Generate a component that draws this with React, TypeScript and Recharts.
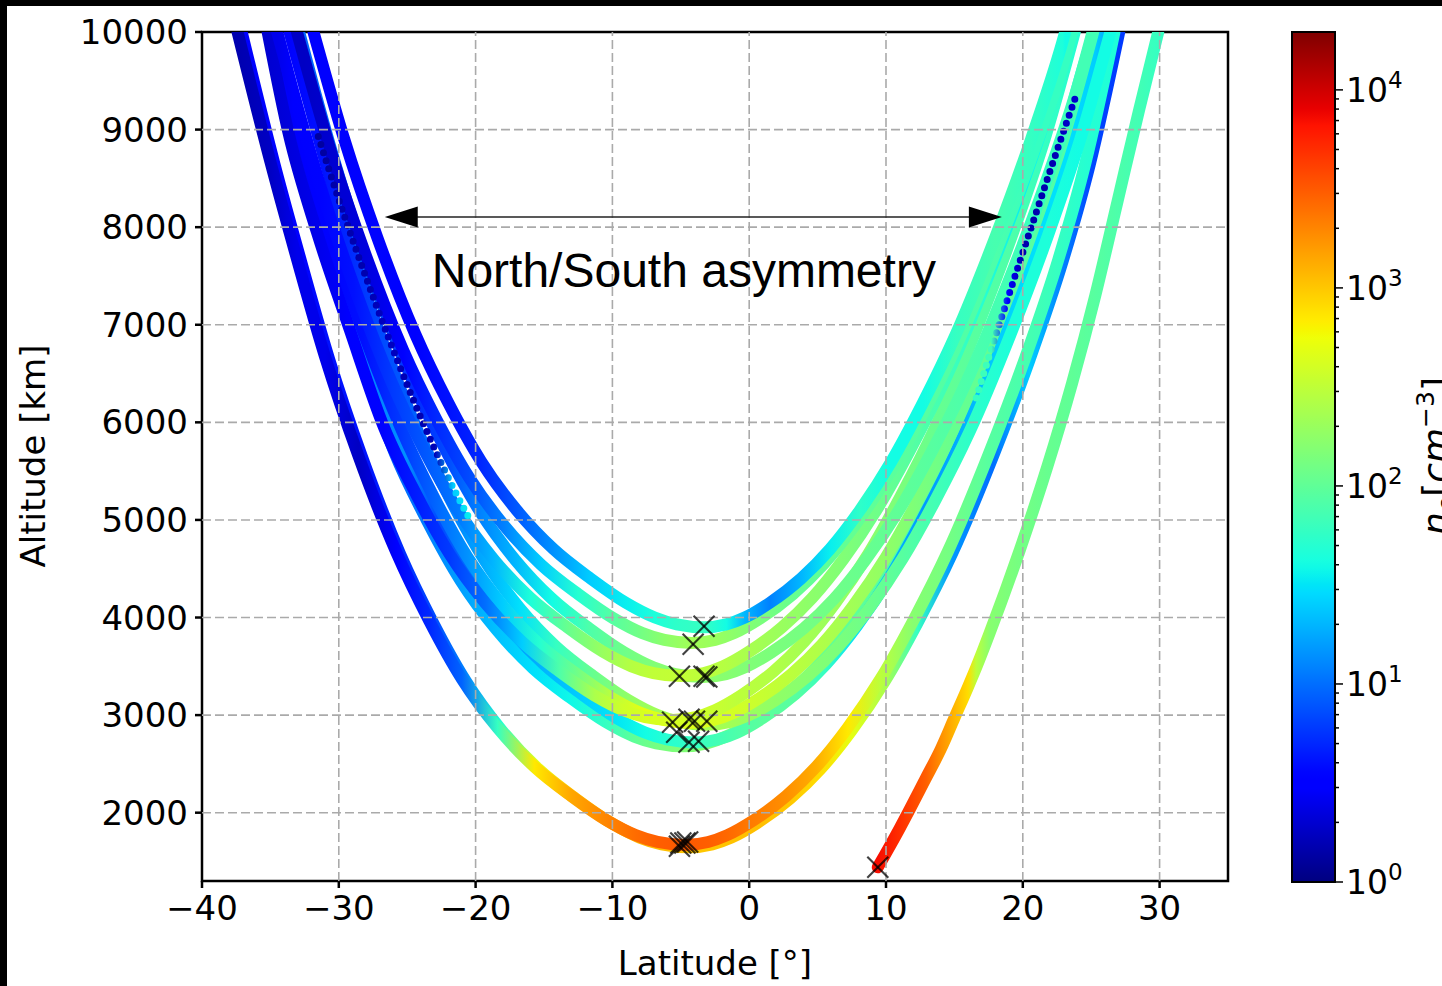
import React from 'react';
import {
  ComposedChart,
  Line,
  Scatter,
  XAxis,
  YAxis,
  ReferenceLine,
  ReferenceArea,
  ReferenceDot,
} from 'recharts';

type Pt = [number, number, number]; // [latitude deg, altitude km, n_e cm^-3]

// ---------- axis ticks ----------
const LAT_TICKS = [-40, -30, -20, -10, 0, 10, 20, 30];
const ALT_TICKS = [2000, 3000, 4000, 5000, 6000, 7000, 8000, 9000, 10000];
const GRID_LATS = [-30, -20, -10, 0, 10, 20, 30];
const GRID_ALTS = [2000, 3000, 4000, 5000, 6000, 7000, 8000, 9000];
const CB_TICKS = [
  1, 2, 3, 4, 5, 6, 7, 8, 9,
  10, 20, 30, 40, 50, 60, 70, 80, 90,
  100, 200, 300, 400, 500, 600, 700, 800, 900,
  1000, 2000, 3000, 4000, 5000, 6000, 7000, 8000, 9000,
  10000,
];
const CB_MAJOR = [1, 10, 100, 1000, 10000];
const NE_MIN = 1;
const NE_MAX = 19600;

// ---------- passes (lat, alt, density) ----------
const P1: Pt[] = [
  [-31.85, 10000, 3.2], [-31.65, 9900, 3.2], [-29.6, 8900, 3.4], [-27.2, 7900, 3.5], [-24.4, 6900, 3.3],
  [-22.0, 6200, 4], [-19.6, 5600, 5], [-17.0, 5100, 8], [-14.3, 4700, 14], [-11.6, 4400, 25],
  [-9.0, 4150, 35], [-6.9, 4000, 45], [-5.3, 3930, 55], [-3.3, 3900, 60], [-1.67, 3930, 40],
  [-0.32, 4000, 20], [1.5, 4150, 12], [3.8, 4400, 20], [5.9, 4700, 35], [8.1, 5100, 55],
  [10.4, 5600, 40], [12.7, 6200, 40], [15.1, 6900, 60], [18.0, 7900, 75], [20.6, 8900, 60],
  [22.9, 9900, 45], [23.1, 10000, 40],
];
const P2: Pt[] = [
  [-33.06, 10000, 1.8], [-32.55, 9740, 1.8], [-30.5, 8740, 2], [-28.1, 7740, 2.2], [-25.3, 6740, 3],
  [-22.9, 6040, 5], [-20.5, 5440, 7], [-17.9, 4940, 12], [-15.2, 4540, 25], [-12.5, 4240, 50],
  [-9.9, 3990, 90], [-7.8, 3840, 130], [-6.2, 3770, 170], [-4.2, 3740, 220], [-2.5, 3770, 200],
  [-1.1, 3840, 170], [0.8, 3990, 140], [3.2, 4240, 110], [5.4, 4540, 100], [7.7, 4940, 105],
  [10.1, 5440, 95], [12.5, 6040, 90], [15.0, 6740, 85], [18.0, 7740, 80], [20.7, 8740, 60],
  [23.1, 9740, 60], [23.6, 10000, 60],
];
const P3: Pt[] = [
  [-34.5, 10000, 2.5], [-33.35, 9400, 3], [-31.3, 8400, 3.5], [-28.9, 7400, 4], [-26.1, 6400, 6],
  [-23.7, 5700, 8], [-21.3, 5100, 11], [-18.7, 4600, 20], [-16.0, 4200, 45], [-13.3, 3900, 110],
  [-10.7, 3650, 200], [-8.6, 3500, 280], [-7.0, 3430, 320], [-5.0, 3400, 330], [-3.3, 3430, 300],
  [-1.9, 3500, 280], [0.0, 3650, 240], [2.4, 3900, 200], [4.6, 4200, 170], [6.9, 4600, 150],
  [9.3, 5100, 120], [11.7, 5700, 90], [14.2, 6400, 70], [17.2, 7400, 50], [19.9, 8400, 35],
  [22.3, 9400, 40], [23.5, 10000, 45],
];
const P4: Pt[] = [
  [-32.9, 10000, 10], [-31.75, 9390, 9], [-29.7, 8390, 10], [-27.3, 7390, 8], [-24.5, 6390, 5],
  [-22.1, 5690, 7], [-19.7, 5090, 12], [-17.1, 4590, 20], [-14.4, 4190, 40], [-11.7, 3890, 80],
  [-9.1, 3640, 120], [-7.0, 3490, 150], [-5.4, 3420, 170], [-3.4, 3390, 170], [-1.7, 3420, 160],
  [-0.3, 3490, 150], [1.6, 3640, 140], [4.0, 3890, 130], [6.2, 4190, 120], [8.5, 4590, 110],
  [10.9, 5090, 100], [13.3, 5690, 90], [15.8, 6390, 80], [18.8, 7390, 70], [21.5, 8390, 60],
  [23.9, 9390, 70], [25.1, 10000, 70],
];
const P5: Pt[] = [
  [-35.2, 10000, 2], [-33.65, 8950, 2.2], [-31.6, 7950, 2.5], [-29.2, 6950, 3], [-26.7, 5950, 3.5],
  [-24.3, 5250, 4.5], [-21.9, 4650, 6], [-19.3, 4150, 10], [-16.6, 3750, 25], [-13.9, 3450, 80],
  [-11.3, 3200, 250], [-9.2, 3050, 380], [-7.6, 2980, 420], [-5.6, 2950, 420], [-3.9, 2980, 380],
  [-2.5, 3050, 350], [-0.6, 3200, 300], [1.8, 3450, 270], [4.0, 3750, 230], [6.3, 4150, 200],
  [8.7, 4650, 170], [11.1, 5250, 140], [13.6, 5950, 110], [16.6, 6950, 90], [19.3, 7950, 80],
  [21.7, 8950, 60], [23.8, 10000, 50],
];
const P6: Pt[] = [
  [-34.75, 10000, 2.8], [-32.65, 8920, 3], [-30.6, 7920, 3.5], [-28.2, 6920, 4], [-25.4, 5920, 6],
  [-23.0, 5220, 9], [-20.6, 4620, 14], [-18.0, 4120, 25], [-15.3, 3720, 50], [-12.6, 3420, 120],
  [-10.0, 3170, 300], [-7.9, 3020, 480], [-6.3, 2950, 500], [-4.3, 2920, 450], [-2.6, 2950, 420],
  [-1.2, 3020, 400], [0.7, 3170, 350], [3.1, 3420, 300], [5.3, 3720, 260], [7.6, 4120, 220],
  [10.0, 4620, 180], [12.4, 5220, 140], [14.9, 5920, 110], [17.9, 6920, 100], [20.6, 7920, 90],
  [23.0, 8920, 80], [25.15, 10000, 70],
];
const P7: Pt[] = [
  [-33.6, 10000, 3.5], [-31.45, 8900, 4], [-29.4, 7900, 5], [-27.0, 6900, 7], [-24.2, 5900, 9],
  [-21.8, 5200, 12], [-19.4, 4600, 18], [-16.8, 4100, 30], [-14.1, 3700, 60], [-11.4, 3400, 110],
  [-8.8, 3150, 180], [-6.7, 3000, 220], [-5.1, 2930, 240], [-3.1, 2900, 230], [-1.4, 2930, 220],
  [0.0, 3000, 200], [1.9, 3150, 180], [4.3, 3400, 160], [6.5, 3700, 140], [8.8, 4100, 115],
  [11.2, 4600, 90], [13.6, 5200, 70], [16.1, 5900, 55], [19.1, 6900, 45], [21.8, 7900, 45],
  [24.2, 8900, 40], [26.4, 10000, 40],
];
const P8: Pt[] = [
  [-34.85, 10000, 2.5], [-34.3, 9720, 2.8], [-32.35, 8720, 3], [-30.3, 7720, 3.5], [-27.9, 6720, 12],
  [-25.1, 5720, 14], [-22.7, 5020, 7], [-20.3, 4420, 10], [-17.7, 3920, 14], [-15.0, 3520, 20],
  [-12.3, 3220, 25], [-9.7, 2970, 32], [-7.6, 2820, 40], [-6.0, 2750, 50], [-4.0, 2720, 60],
  [-2.3, 2750, 70], [-0.9, 2820, 80], [1.0, 2970, 95], [3.4, 3220, 90], [5.6, 3520, 60],
  [7.9, 3920, 30], [10.3, 4420, 20], [12.7, 5020, 15], [15.2, 5720, 18], [18.2, 6720, 25],
  [20.9, 7720, 30], [23.3, 8720, 30], [25.3, 9720, 25], [25.85, 10000, 20],
];
const P8B: Pt[] = [
  [-35.0, 10000, 3], [-34.6, 9680, 3.5], [-32.85, 8680, 4], [-30.8, 7680, 5], [-28.4, 6680, 7],
  [-25.9, 5680, 9], [-23.5, 4980, 12], [-21.1, 4380, 16], [-18.5, 3880, 22], [-15.8, 3480, 30],
  [-13.1, 3180, 38], [-10.5, 2930, 60], [-8.4, 2780, 100], [-6.8, 2710, 130], [-4.8, 2680, 150],
  [-3.1, 2710, 150], [-1.7, 2780, 140], [0.2, 2930, 130], [2.6, 3180, 120], [4.8, 3480, 110],
  [7.1, 3880, 100], [9.5, 4380, 90], [11.9, 4980, 80], [14.4, 5680, 70], [17.4, 6680, 50],
  [20.1, 7680, 45], [22.5, 8680, 40], [24.5, 9680, 40], [25.2, 10000, 35],
];
const P9: Pt[] = [
  [-37.4, 10000, 1.5], [-35.0, 8670, 1.8], [-33.05, 7670, 2.5], [-31.0, 6670, 2.5], [-28.6, 5670, 1.8],
  [-25.8, 4670, 3], [-23.4, 3970, 5], [-21.0, 3370, 9], [-18.4, 2870, 60], [-15.7, 2470, 700],
  [-13.0, 2170, 1400], [-10.4, 1920, 2000], [-8.3, 1770, 2600], [-6.7, 1700, 3000], [-4.7, 1670, 3200],
  [-3.0, 1700, 3000], [-1.6, 1770, 2700], [0.3, 1920, 2200], [2.7, 2170, 1800], [4.9, 2470, 1300],
  [7.2, 2870, 700], [9.6, 3370, 300], [12.0, 3970, 160], [14.5, 4670, 130], [17.5, 5670, 90],
  [20.2, 6670, 75], [22.6, 7670, 60], [24.6, 8670, 50], [26.7, 10000, 45],
];
const P10: Pt[] = [
  [-37.1, 10000, 3], [-34.7, 8645, 3.5], [-32.75, 7645, 3], [-30.7, 6645, 4], [-28.3, 5645, 4],
  [-25.5, 4645, 5], [-23.1, 3945, 7], [-20.7, 3345, 12], [-18.1, 2845, 50], [-15.4, 2445, 500],
  [-12.7, 2145, 1000], [-10.1, 1895, 1100], [-8.0, 1745, 1200], [-6.4, 1675, 1100], [-4.4, 1645, 1000],
  [-2.7, 1675, 1000], [-1.3, 1745, 1050], [0.6, 1895, 1100], [3.0, 2145, 1000], [5.2, 2445, 800],
  [7.5, 2845, 500], [9.9, 3345, 250], [12.3, 3945, 60], [14.8, 4645, 15], [17.8, 5645, 10],
  [20.5, 6645, 25], [22.9, 7645, 12], [24.9, 8645, 7], [27.05, 10000, 6],
];
const PLUNGE: Pt[] = [
  [9.4, 1440, 7000], [11.0, 1840, 5000], [12.9, 2350, 3000], [14.0, 2650, 1800], [15.0, 2970, 1200],
  [16.0, 3290, 800], [16.6, 3490, 300], [17.6, 3850, 160], [19.8, 4700, 130], [21.8, 5550, 110],
  [23.6, 6400, 100], [25.3, 7300, 90], [26.9, 8250, 80], [28.5, 9200, 70], [29.9, 10000, 60],
];
const DOTTED_S: Pt[] = [
  [-31.5, 8930, 1.3], [-29.8, 8200, 1.5], [-28.1, 7520, 1.5], [-26.4, 6880, 1.8], [-24.7, 6280, 1.5],
  [-23.0, 5730, 1.6], [-21.6, 5320, 25], [-20.4, 5000, 35],
];
const DOTTED_N: Pt[] = [
  [16.6, 6250, 60], [17.7, 6750, 70], [18.9, 7270, 3], [20.0, 7740, 1.5], [21.1, 8200, 1.5],
  [22.1, 8620, 1.5], [23.1, 9030, 1.8], [24.0, 9390, 2],
];

// periapsis markers (lat, alt)
const PERI_LAT = [-3.3, -4.1, -5.1, -3.3, -3.1, -5.6, -4.4, -4.0, -3.1, -5.3, -4.4, -3.7, -5.0, -4.7, -4.5, -5.1, 9.4];
const PERI_ALT = [3910, 3726, 3398, 3398, 3390, 2927, 2958, 2937, 2937, 2825, 2722, 2733, 1690, 1690, 1700, 1655, 1440];

const PASSES: { id: string; pts: Pt[] }[] = [
  { id: 'p10', pts: P10 },
  { id: 'p9', pts: P9 },
  { id: 'p8b', pts: P8B },
  { id: 'p8', pts: P8 },
  { id: 'p7', pts: P7 },
  { id: 'p6', pts: P6 },
  { id: 'p5', pts: P5 },
  { id: 'p4', pts: P4 },
  { id: 'p3', pts: P3 },
  { id: 'p2', pts: P2 },
  { id: 'p1', pts: P1 },
  { id: 'plunge', pts: PLUNGE },
];
const DOTTED: { id: string; pts: Pt[] }[] = [
  { id: 'ds', pts: DOTTED_S },
  { id: 'dn', pts: DOTTED_N },
];

// ---------- jet colormap ----------
const RED = [[0, 0], [0.35, 0], [0.66, 1], [0.89, 1], [1, 0.5]];
const GREEN = [[0, 0], [0.125, 0], [0.375, 1], [0.64, 1], [0.91, 0], [1, 0]];
const BLUE = [[0, 0.5], [0.11, 1], [0.34, 1], [0.65, 0], [1, 0]];
function seg(table: number[][], t: number) {
  for (let i = 1; i < table.length; i++) {
    if (t <= table[i][0]) {
      const [x0, y0] = table[i - 1];
      const [x1, y1] = table[i];
      return y0 + ((t - x0) / (x1 - x0)) * (y1 - y0);
    }
  }
  return table[table.length - 1][1];
}
function jetT(t: number) {
  const c = Math.max(0, Math.min(1, t));
  const r = Math.round(seg(RED, c) * 255);
  const g = Math.round(seg(GREEN, c) * 255);
  const b = Math.round(seg(BLUE, c) * 255);
  return `rgb(${r},${g},${b})`;
}
function neColor(ne: number) {
  return jetT(Math.log10(ne / NE_MIN) / Math.log10(NE_MAX / NE_MIN));
}

const toData = (pts: Pt[]) => pts.map(([lat, alt, ne]) => ({ lat, alt, ne }));
const PERI_DATA = PERI_LAT.map((lat, i) => ({ lat, alt: PERI_ALT[i] }));

function gradientFor(id: string, pts: Pt[]) {
  const l0 = pts[0][0];
  const l1 = pts[pts.length - 1][0];
  return (
    <linearGradient key={id} id={`g-${id}`} x1="0" y1="0" x2="1" y2="0">
      {pts.map((p, i) => (
        <stop key={i} offset={(p[0] - l0) / (l1 - l0)} stopColor={neColor(p[2])} />
      ))}
    </linearGradient>
  );
}

const CB_STEPS = Array.from({ length: 101 }, (_, i) => i / 100);

const FONT = 'DejaVu Sans';
const fmtLat = (v: number) => (v < 0 ? '\u2212' + Math.abs(v) : String(v));

const XMark = (props: any) => {
  const { cx, cy } = props;
  if (cx == null || cy == null) return null;
  const s = 10.5;
  return (
    <g stroke="#000" strokeWidth={2.1} strokeOpacity={0.75}>
      <line x1={cx - s} y1={cy - s} x2={cx + s} y2={cy + s} />
      <line x1={cx - s} y1={cy + s} x2={cx + s} y2={cy - s} />
    </g>
  );
};

const ArrowShape = (props: any) => {
  const { x1, y1, x2, y2 } = props;
  const hl = 33;
  const hw = 10.5;
  return (
    <g>
      <line x1={x1 + hl - 2} y1={y1} x2={x2 - hl + 2} y2={y2} stroke="#222" strokeWidth={1.3} />
      <polygon points={`${x1},${y1} ${x1 + hl},${y1 - hw} ${x1 + hl},${y1 + hw}`} fill="#000" />
      <polygon points={`${x2},${y2} ${x2 - hl},${y2 - hw} ${x2 - hl},${y2 + hw}`} fill="#000" />
    </g>
  );
};

const NoteShape = (props: any) => (
  <text
    x={props.cx}
    y={props.cy}
    textAnchor="middle"
    fontFamily="Liberation Sans"
    fontSize={48}
    fill="#000"
  >
    North/South asymmetry
  </text>
);

const YLabel = () => (
  <text
    x={45}
    y={456}
    transform="rotate(-90, 45, 456)"
    textAnchor="middle"
    fontFamily={FONT}
    fontSize={34}
    fill="#000"
  >
    Altitude [km]
  </text>
);
const XLabel = () => (
  <text x={715} y={975} textAnchor="middle" fontFamily={FONT} fontSize={34} fill="#000">
    Latitude [°]
  </text>
);

const CbTick = (props: any) => {
  const { x, y, payload } = props;
  const v = payload.value;
  const major = CB_MAJOR.includes(v);
  const exp = Math.round(Math.log10(v));
  return (
    <g>
      <line x1={x} y1={y} x2={x + (major ? 8 : 4)} y2={y} stroke="#000" strokeWidth={1.5} />
      {major && (
        <text x={x + 11} y={y} dy="0.36em" fontFamily={FONT} fontSize={33} fill="#000">
          10
          <tspan dy={-14} fontSize={23}>
            {exp}
          </tspan>
        </text>
      )}
    </g>
  );
};

const CbLabel = () => (
  <text
    x={198}
    y={456}
    transform="rotate(-90, 198, 456)"
    textAnchor="middle"
    fontFamily={FONT}
    fontSize={36}
    fill="#000"
  >
    <tspan fontStyle="italic">n</tspan>
    <tspan fontStyle="italic" fontSize={25} dy={7}>e</tspan>
    <tspan dy={-7}>[</tspan>
    <tspan fontStyle="italic">cm</tspan>
    <tspan fontSize={25} dy={-14}>{'\u22123'}</tspan>
    <tspan dy={14}>]</tspan>
  </text>
);

const CB_DATA = [
  { v: 0, n: NE_MIN },
  { v: 1, n: NE_MAX },
];

export default function App() {
  return (
    <div style={{ position: 'relative', width: 1442, height: 986, background: '#000', overflow: 'hidden' }}>
      <style>{'html,body{margin:0;padding:0;overflow:hidden;}'}</style>
      <div style={{ position: 'absolute', left: 7, top: 6, width: 1435, height: 980, background: '#fff' }} />
      <svg style={{ position: 'absolute', width: 0, height: 0 }}>
        <defs>
          {PASSES.map((p) => gradientFor(p.id, p.pts))}
          {DOTTED.map((p) => gradientFor(p.id, p.pts))}
          <linearGradient id="cbgrad" x1="0" y1="1" x2="0" y2="0">
            {CB_STEPS.map((t, i) => (
              <stop key={i} offset={t} stopColor={jetT(t)} />
            ))}
          </linearGradient>
        </defs>
      </svg>

      <div style={{ position: 'absolute', left: 0, top: 0 }}>
        <ComposedChart width={1442} height={986} margin={{ top: 32, right: 214, bottom: 15, left: 82 }}>
          <XAxis
            type="number"
            dataKey="lat"
            domain={[-40, 35]}
            ticks={LAT_TICKS}
            interval={0}
            allowDataOverflow
            axisLine={false}
            tickLine={{ stroke: '#000', strokeWidth: 2.5 }}
            tickSize={7}
            tickMargin={8}
            tickFormatter={fmtLat}
            tick={{ fontSize: 34, fontFamily: FONT, fill: '#000' }}
            height={90}
            label={<XLabel />}
          />
          <YAxis
            type="number"
            domain={[1300, 10000]}
            ticks={ALT_TICKS}
            interval={0}
            allowDataOverflow
            axisLine={false}
            tickLine={{ stroke: '#000', strokeWidth: 2.5 }}
            tickSize={7}
            tickMargin={7}
            tick={{ fontSize: 34, fontFamily: FONT, fill: '#000' }}
            width={120}
            label={<YLabel />}
          />
          {PASSES.map((p) => (
            <Line
              key={p.id}
              data={toData(p.pts)}
              dataKey="alt"
              type="monotone"
              stroke={`url(#g-${p.id})`}
              strokeWidth={12}
              strokeLinecap="round"
              strokeLinejoin="round"
              dot={false}
              activeDot={false}
              isAnimationActive={false}
            />
          ))}
          {DOTTED.map((p) => (
            <Line
              key={p.id}
              data={toData(p.pts)}
              dataKey="alt"
              type="monotone"
              stroke={`url(#g-${p.id})`}
              strokeWidth={7}
              strokeDasharray="0 8.5"
              strokeLinecap="round"
              dot={false}
              activeDot={false}
              isAnimationActive={false}
            />
          ))}
          <Scatter data={PERI_DATA} dataKey="alt" shape={<XMark />} isAnimationActive={false} />
          {GRID_LATS.map((v) => (
            <ReferenceLine key={`gx${v}`} x={v} stroke="#aaaaaa" strokeWidth={1.6} strokeDasharray="9 4" />
          ))}
          {GRID_ALTS.map((v) => (
            <ReferenceLine key={`gy${v}`} y={v} stroke="#aaaaaa" strokeWidth={1.6} strokeDasharray="9 4" />
          ))}
          <ReferenceLine
            segment={[
              { x: -26.64, y: 8104 },
              { x: 18.47, y: 8104 },
            ]}
            shape={<ArrowShape />}
          />
          <ReferenceDot x={-4.78} y={7387} r={0} shape={<NoteShape />} />
          <ReferenceArea
            x1={-40}
            x2={35}
            y1={1300}
            y2={10000}
            fill="none"
            fillOpacity={0}
            stroke="#000"
            strokeWidth={2.5}
            ifOverflow="visible"
          />
        </ComposedChart>
      </div>

      <div style={{ position: 'absolute', left: 1250, top: 0 }}>
        <ComposedChart width={192} height={986} data={CB_DATA} margin={{ top: 32, right: 7, bottom: 104, left: 42 }}>
          <XAxis type="number" dataKey="v" domain={[0, 1]} hide />
          <YAxis
            type="number"
            dataKey="n"
            scale="log"
            domain={[NE_MIN, NE_MAX]}
            allowDataOverflow
            orientation="right"
            ticks={CB_TICKS}
            interval={0}
            axisLine={false}
            tickLine={false}
            tickSize={0}
            tickMargin={0}
            tick={<CbTick />}
            width={100}
            label={<CbLabel />}
          />
          <ReferenceArea
            x1={0}
            x2={1}
            y1={NE_MIN}
            y2={NE_MAX}
            fill="url(#cbgrad)"
            fillOpacity={1}
            stroke="#000"
            strokeWidth={2}
            ifOverflow="visible"
          />
        </ComposedChart>
      </div>
    </div>
  );
}
